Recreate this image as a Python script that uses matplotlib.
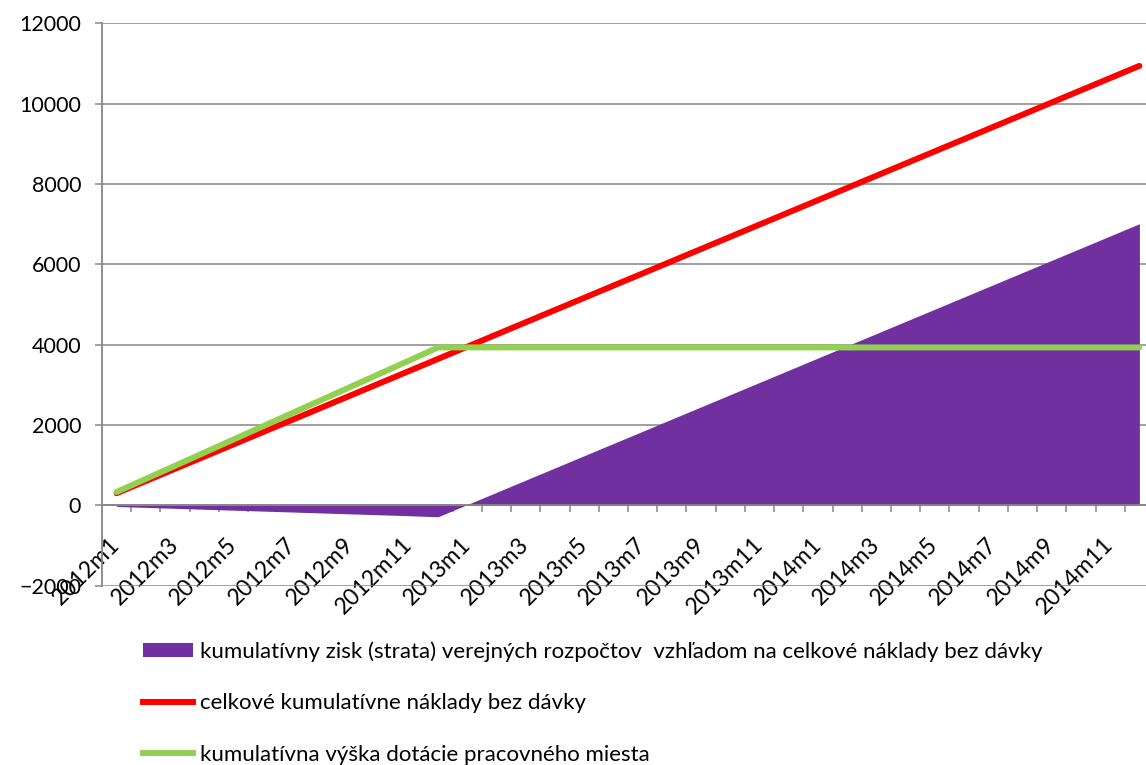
import matplotlib
matplotlib.use("Agg")
import matplotlib.pyplot as plt
from matplotlib.patches import Patch
from matplotlib.lines import Line2D
from matplotlib.ticker import FixedLocator

plt.rcParams['font.family'] = ['Lato', 'DejaVu Sans']

months = [f"{y}m{m}" for y in (2012, 2013, 2014) for m in range(1, 13)]

naklady = [300, 604, 908, 1212, 1516, 1820, 2124, 2428, 2732, 3036, 3340, 3644,
           3948, 4252, 4556, 4860, 5164, 5468, 5772, 6076, 6380, 6684, 6988, 7292,
           7596, 7900, 8204, 8508, 8812, 9116, 9420, 9724, 10028, 10332, 10636, 10940]
dotacia = [330, 657, 984, 1311, 1638, 1965, 2292, 2619, 2946, 3273, 3600, 3930,
           3930, 3930, 3930, 3930, 3930, 3930, 3930, 3930, 3930, 3930, 3930, 3930,
           3930, 3930, 3930, 3930, 3930, 3930, 3930, 3930, 3930, 3930, 3930, 3930]
zisk = [-30, -53, -76, -99, -122, -145, -168, -191, -214, -237, -260, -286,
        18, 322, 626, 930, 1234, 1538, 1842, 2146, 2450, 2754, 3058, 3362,
        3666, 3970, 4274, 4578, 4882, 5186, 5490, 5794, 6098, 6402, 6706, 7010]

labels = ["kumulatívny zisk (strata) verejných rozpočtov  vzhľadom na celkové náklady bez dávky",
          "celkové kumulatívne náklady bez dávky",
          "kumulatívna výška dotácie pracovného miesta"]

PURPLE = "#7030A0"
RED = "#FF0000"
GREEN = "#92D050"
GRAY = "#868686"

W, H = 1146, 765
fig = plt.figure(figsize=(W / 100, H / 100), dpi=100)
ax = fig.add_axes([102 / W, 179.4 / H, 1052 / W, 562.3 / H])

x = list(range(len(months)))
ax.fill_between(x, 0, zisk, color=PURPLE, linewidth=0, zorder=2)
ax.plot(x, naklady, color=RED, lw=4.3, solid_capstyle='round', zorder=3)
ax.plot(x, dotacia, color=GREEN, lw=4.3, solid_capstyle='round', zorder=4)

ax.set_xlim(-0.5, len(months) - 0.5)
ax.set_ylim(-2000, 12000)
ax.set_yticks(range(-2000, 12001, 2000))
ax.yaxis.grid(True, color=GRAY, lw=1.1)
ax.set_axisbelow(True)

for s in ('top', 'right'):
    ax.spines[s].set_visible(False)
ax.spines['left'].set_color(GRAY)
ax.spines['left'].set_linewidth(1.3)
ax.spines['bottom'].set_position(('data', 0))
ax.spines['bottom'].set_color(GRAY)
ax.spines['bottom'].set_linewidth(1.3)
ax.spines['bottom'].set_zorder(5)

ax.tick_params(axis='y', colors=GRAY, length=5, width=1.1, pad=10, labelsize=15.5, labelcolor='black')
ax.set_xticks(x[::2])
ax.set_xticklabels(months[::2], rotation=45, ha='right', va='center', rotation_mode='anchor')
ax.tick_params(axis='x', which='major', length=0, pad=26, labelsize=16.5, labelcolor='black')
ax.xaxis.set_minor_locator(FixedLocator([i + 0.5 for i in range(len(months))]))
ax.tick_params(axis='x', which='minor', length=5, width=1.1, color=GRAY)

handles = [Patch(facecolor=PURPLE, edgecolor='none'),
           Line2D([0], [0], color=RED, lw=4.3),
           Line2D([0], [0], color=GREEN, lw=4.3)]
fig.legend(handles, labels, loc='upper left', bbox_to_anchor=(143 / W, 1 - 641 / H),
           frameon=False, fontsize=16, handlelength=2.25, handleheight=0.63,
           handletextpad=0.3, labelspacing=1.42, borderaxespad=0, borderpad=0)

fig.savefig("out.png", dpi=100)
